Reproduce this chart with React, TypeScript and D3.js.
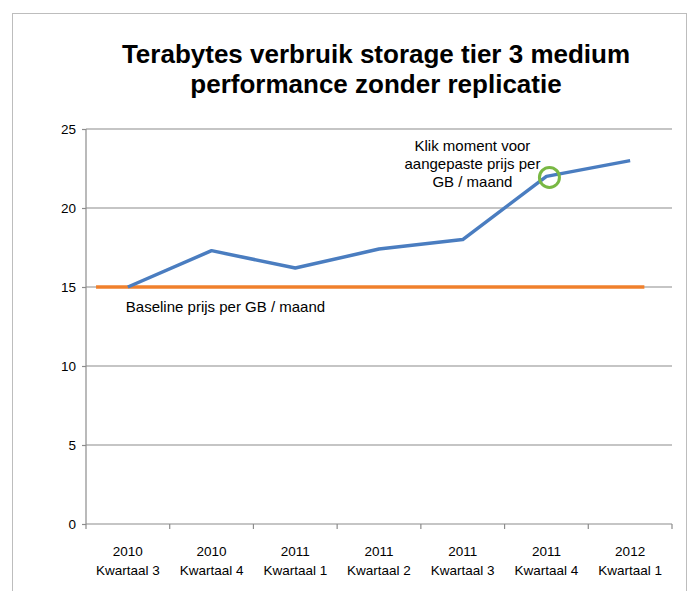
import React, { useEffect, useRef } from "react";
import * as d3 from "d3";

const quarters = [
    ["2010", "Kwartaal 3"],
    ["2010", "Kwartaal 4"],
    ["2011", "Kwartaal 1"],
    ["2011", "Kwartaal 2"],
    ["2011", "Kwartaal 3"],
    ["2011", "Kwartaal 4"],
    ["2012", "Kwartaal 1"],
];
const usage = [15, 17.3, 16.2, 17.4, 18, 22, 23];
const baseline = 15;
const yTicks = [0, 5, 10, 15, 20, 25];
const titleLines = [
    "Terabytes verbruik storage tier 3 medium",
    "performance zonder replicatie",
];
const klikLines = ["Klik moment voor", "aangepaste prijs per", "GB / maand"];
const baselineLabel = "Baseline prijs per GB / maand";
const klikIndex = 5;

const W = 689,
    H = 591;
const font = "Liberation Sans, Arial, sans-serif";

const App: React.FC = () => {
    const svgRef = useRef<SVGSVGElement>(null);

    useEffect(() => {
        const svg = d3.select(svgRef.current);
        svg.selectAll("*").remove();

        const margin = { top: 129, right: 17, bottom: 67, left: 86 };
        const width = W - margin.left - margin.right;
        const height = H - margin.top - margin.bottom;

        // frame
        svg.append("rect")
            .attr("x", 12.5)
            .attr("y", 13.5)
            .attr("width", 674)
            .attr("height", 600)
            .attr("fill", "#fff")
            .attr("stroke", "#bdbdbd")
            .attr("stroke-width", 1);

        svg.append("text")
            .attr("text-anchor", "middle")
            .attr("font-family", font)
            .attr("font-weight", "bold")
            .attr("font-size", 26)
            .selectAll("tspan")
            .data(titleLines)
            .enter()
            .append("tspan")
            .attr("x", 376)
            .attr("y", (d, i) => 63 + i * 30)
            .text(d => d);

        const g = svg
            .append("g")
            .attr("transform", `translate(${margin.left},${margin.top})`);

        const x = d3
            .scaleBand<number>()
            .domain(d3.range(quarters.length))
            .range([0, width]);
        const y = d3.scaleLinear().domain([0, 25]).range([height, 0]);
        const cx = (i: number) => x(i)! + x.bandwidth() / 2;

        // grid
        g.append("g")
            .selectAll("line")
            .data(yTicks.filter(t => t > 0))
            .enter()
            .append("line")
            .attr("x1", 0)
            .attr("x2", width)
            .attr("y1", d => y(d))
            .attr("y2", d => y(d))
            .attr("stroke", "#8c8c8c")
            .attr("stroke-width", 1.2);

        const yAxis = g
            .append("g")
            .call(d3.axisLeft(y).tickValues(yTicks).tickSize(4).tickPadding(6))
            .call(a => a.selectAll("path,line").attr("stroke", "#8c8c8c").attr("stroke-width", 1.2));
        yAxis.select(".domain").attr("d", `M0,0V${height}`);
        yAxis
            .selectAll("text")
            .attr("font-family", font)
            .attr("font-size", 13.5)
            .attr("fill", "#000");

        const xAxis = g
            .append("g")
            .attr("transform", `translate(0,${height})`)
            .call(a => a.append("line").attr("x1", 0).attr("x2", width).attr("stroke", "#8c8c8c").attr("stroke-width", 1.2));
        xAxis
            .selectAll(".sep")
            .data(d3.range(quarters.length + 1))
            .enter()
            .append("line")
            .attr("x1", d => d * x.bandwidth())
            .attr("x2", d => d * x.bandwidth())
            .attr("y1", 0)
            .attr("y2", 5)
            .attr("stroke", "#8c8c8c")
            .attr("stroke-width", 1.2);
        xAxis
            .selectAll(".lbl")
            .data(quarters)
            .enter()
            .append("text")
            .attr("text-anchor", "middle")
            .attr("font-family", font)
            .attr("font-size", 13.5)
            .each(function (d, i) {
                const t = d3.select(this);
                d.forEach((s, j) =>
                    t.append("tspan")
                        .attr("x", cx(i))
                        .attr("y", 32 + j * 19)
                        .text(s),
                );
            });

        // baseline series
        g.append("line")
            .attr("x1", cx(0) - x.bandwidth() * 0.38)
            .attr("x2", cx(quarters.length - 1) + x.bandwidth() * 0.17)
            .attr("y1", y(baseline))
            .attr("y2", y(baseline))
            .attr("stroke", "#f0802c")
            .attr("stroke-width", 3.5);

        const line = d3
            .line<number>()
            .x((d, i) => cx(i))
            .y(d => y(d));
        g.append("path")
            .datum(usage)
            .attr("fill", "none")
            .attr("stroke", "#4a7dc0")
            .attr("stroke-width", 3.5)
            .attr("stroke-linejoin", "round")
            .attr("d", line);

        g.append("circle")
            .attr("cx", cx(klikIndex) + 3)
            .attr("cy", y(usage[klikIndex]) + 1)
            .attr("r", 10)
            .attr("fill", "none")
            .attr("stroke", "#79b844")
            .attr("stroke-width", 3);

        g.append("text")
            .attr("font-family", font)
            .attr("font-size", 15)
            .attr("text-anchor", "middle")
            .selectAll("tspan")
            .data(klikLines)
            .enter()
            .append("tspan")
            .attr("x", cx(klikIndex) - 74)
            .attr("y", (d, i) => y(usage[klikIndex]) - 25 + i * 18)
            .text(d => d);

        g.append("text")
            .attr("font-family", font)
            .attr("font-size", 15)
            .attr("x", cx(0) - 2)
            .attr("y", y(baseline) + 25)
            .text(baselineLabel);
    }, []);

    return (
        <div style={{ position: "absolute", left: 0, top: 0 }}>
            <svg ref={svgRef} width={W} height={H} style={{ display: "block", background: "#fff" }} />
        </div>
    );
};

export default App;
